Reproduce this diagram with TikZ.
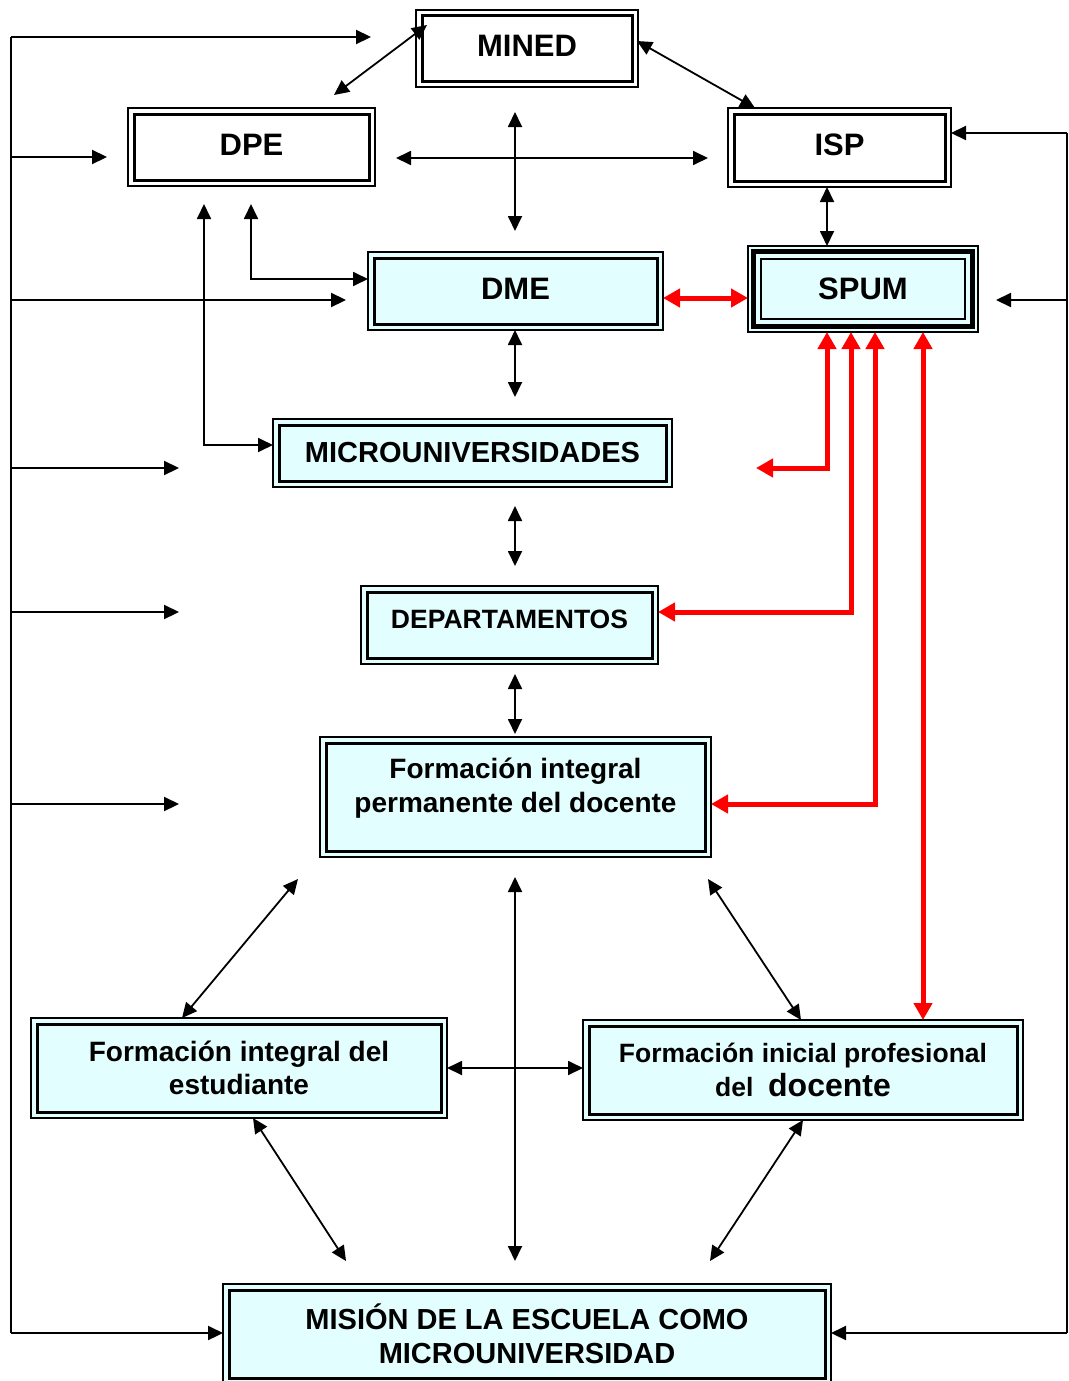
\documentclass[tikz,border=0pt]{standalone}
\usepackage{fontspec}
\setmainfont{Liberation Sans}
\usetikzlibrary{arrows.meta}
\definecolor{boxfill}{RGB}{226,254,254}
\definecolor{redline}{RGB}{255,0,0}
\begin{document}
\begin{tikzpicture}[x=1pt,y=-1pt,
  box/.style 2 args={draw, line width=2pt, fill=boxfill, minimum width=#1, minimum height=#2,
     inner sep=0pt, outer sep=0pt, align=center, font=\bfseries},
  wbox/.style 2 args={box={#1}{#2}, fill=white},
  wire/.style={line width=2.5pt},
  arr/.style={line width=2.2pt, -{Triangle[length=15pt,width=14pt]}},
  darr/.style={line width=1.8pt, {Triangle[length=15pt,width=14pt]}-{Triangle[length=15pt,width=14pt]}},
  rdarr/.style={line width=5pt, draw=redline, {Triangle[length=17pt,width=18pt]}-{Triangle[length=17pt,width=18pt]}},
]
\useasboundingbox (0,0) rectangle (1068,1381);

% nodes
\node[wbox={222pt}{77pt}, text depth=5pt, font=\bfseries\fontsize{31}{36}\selectfont] (mined) at (527,48.5) {MINED};
\node[wbox={247pt}{78pt}, text depth=4pt, font=\bfseries\fontsize{31}{36}\selectfont] (dpe) at (251.5,147) {DPE};
\node[wbox={223pt}{79pt}, text depth=5pt, font=\bfseries\fontsize{31}{36}\selectfont] (isp) at (839.5,147.5) {ISP};
\node[box={295pt}{78pt}, text depth=4pt, font=\bfseries\fontsize{31}{36}\selectfont] (dme) at (515.5,291) {DME};
\node[box={230pt}{86pt}, font=\bfseries\fontsize{31}{36}\selectfont] (spum) at (863,289) {SPUM};
\node[box={399pt}{68pt}, font=\bfseries\fontsize{29}{34}\selectfont] (micro) at (472.5,453) {MICROUNIVERSIDADES};
\node[box={297pt}{78pt}, text depth=12pt, font=\bfseries\fontsize{26.5}{32}\selectfont] (dept) at (509.5,625) {DEPARTAMENTOS};
\node[box={391pt}{120pt}, font=\bfseries\fontsize{28}{34}\selectfont] (fipd) at (515.5,797)
  {\raisebox{0pt}[\height][\dimexpr\depth+16pt\relax]{\begin{tabular}{@{}c@{}}Formación integral\\permanente del docente\end{tabular}}};
\node[box={416pt}{100pt}, font=\bfseries\fontsize{28}{33}\selectfont] (fie) at (239,1068) {Formación integral del\\estudiante};
\node[box={440pt}{100pt}, font=\bfseries\fontsize{26.5}{34}\selectfont] (fipro) at (803,1070) {Formación inicial profesional\\del\ \ {\fontsize{32}{34}\selectfont docente}};
\node[box={608pt}{100pt}, font=\bfseries\fontsize{29}{34}\selectfont] (mision) at (527,1334) {MISIÓN DE LA ESCUELA COMO\\MICROUNIVERSIDAD};

% inner borders
\foreach \n in {mined,dpe,isp,dme,micro,dept,fipd,fie,fipro,mision}
  \draw[line width=3pt] ([shift={(6,6)}]\n.north west) rectangle ([shift={(-6,-6)}]\n.south east);
\draw[line width=5pt] ([shift={(5.5,5.5)}]spum.north west) rectangle ([shift={(-5.5,-5.5)}]spum.south east);
\draw[line width=2pt] ([shift={(13,13)}]spum.north west) rectangle ([shift={(-13,-13)}]spum.south east);

% free coordinates
\coordinate (L37) at (11,37);
\coordinate (L157) at (11,157);
\coordinate (L300) at (11,300);
\coordinate (L468) at (11,468);
\coordinate (L612) at (11,612);
\coordinate (L804) at (11,804);
\coordinate (L1333) at (11,1333);
\coordinate (T37) at (371,37);
\coordinate (T157) at (107,157);
\coordinate (T300) at (346,300);
\coordinate (T468) at (179,468);
\coordinate (T612) at (179,612);
\coordinate (T804) at (179,804);
\coordinate (R133) at (1067,133);
\coordinate (R300) at (1067,300);
\coordinate (R1333) at (1067,1333);
\coordinate (T997) at (996,300);
\coordinate (minedL) at (334,95);
\coordinate (crossT) at (515,112);
\coordinate (crossB) at (515,231);
\coordinate (crossL) at (396,158);
\coordinate (crossR) at (708,158);
\coordinate (dpeA) at (251,204);
\coordinate (dpeB) at (204,204);
\coordinate (dmeS) at (515,397);
\coordinate (microN) at (515,506);
\coordinate (microS) at (515,566);
\coordinate (deptS) at (515,674);
\coordinate (fipdN) at (515,734);
\coordinate (fipdSW) at (298,879);
\coordinate (fipdS) at (515,877);
\coordinate (fipdSE) at (708,879);
\coordinate (misNW) at (346,1261);
\coordinate (misN) at (515,1261);
\coordinate (misNE) at (710,1261);
\coordinate (redEnd) at (756,468);
\coordinate (dmeR) at ([shift={(0,7)}]dme.east);

% left spine
\draw[wire] (L37) -- (L1333);
\draw[arr] (L37) -- (T37);
\draw[arr] (L157) -- (T157);
\draw[arr] (L300) -- (T300);
\draw[arr] (L468) -- (T468);
\draw[arr] (L612) -- (T612);
\draw[arr] (L804) -- (T804);
\draw[arr] (L1333) -- (mision.west |- L1333);

% right spine
\draw[wire] (R133) -- (R1333);
\draw[arr] (R133) -- (isp.east |- R133);
\draw[arr] (R300) -- (T997);
\draw[arr] (R1333) -- (mision.east |- R1333);

% top connectors
\draw[darr] ([shift={(11,15)}]mined.north west) -- (minedL);
\draw[darr] ([shift={(-1,-7.5)}]mined.east) -- ([shift={(27,0)}]isp.north west);
\draw[darr] (crossT) -- (crossB);
\draw[darr] (crossL) -- (crossR);
\draw[darr] ([shift={(-12.5,0)}]isp.south) -- ([shift={(-36,0)}]spum.north);
\draw[darr] (dpeA) |- ([shift={(0,-12)}]dme.west);
\draw[darr] (dpeB) |- ([shift={(0,-8)}]micro.west);

% central column
\draw[darr] ([shift={(-0.5,0)}]dme.south) -- (dmeS);
\draw[darr] (microN) -- (microS);
\draw[darr] (deptS) -- (fipdN);

% bottom
\draw[darr] (fipdSW) -- ([shift={(-57,0)}]fie.north);
\draw[darr] (fipdS) -- (misN);
\draw[darr] (fipdSE) -- ([shift={(-2,0)}]fipro.north);
\draw[darr] (fie.east) -- (fipro.west |- fie.east);
\draw[darr] ([shift={(14,0)}]fie.south) -- (misNW);
\draw[darr] (fipro.south) -- (misNE);

% red connectors
\draw[rdarr] (dmeR) -- (spum.west |- dmeR);
\draw[rdarr] ([shift={(-36,0)}]spum.south) |- (redEnd);
\draw[rdarr] ([shift={(-12,0)}]spum.south) |- ([shift={(0,-13)}]dept.east);
\draw[rdarr] ([shift={(12,0)}]spum.south) |- ([shift={(0,7)}]fipd.east);
\draw[rdarr] ([shift={(60,0)}]spum.south) -- ([shift={(120,0)}]fipro.north);
\end{tikzpicture}
\end{document}
